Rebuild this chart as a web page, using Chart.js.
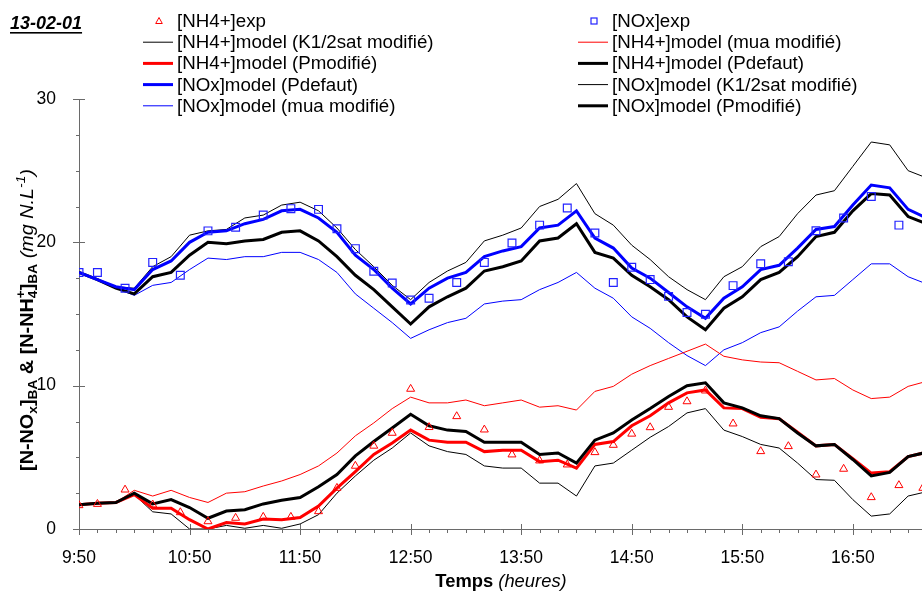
<!DOCTYPE html>
<html>
<head>
<meta charset="utf-8">
<script src="https://cdn.jsdelivr.net/npm/chart.js@4"></script>
<style>
  html, body { margin: 0; padding: 0; background: #fff; overflow: hidden; }
  #wrap { width: 980px; height: 591px; }
  #chart { display: block; }
</style>
</head>
<body>
<div id="wrap"><canvas id="chart" width="922" height="591"></canvas></div>
<script>
// minutes since 9:50
const modelTimes = [0,10,20,30,40,50,60,70,80,90,100,110,120,130,140,150,160,170,180,190,200,210,220,230,240,250,260,270,280,290,300,310,320,330,340,350,360,370,380,390,400,410,420,430,440,450,460];

const nh4K12sat = [1.7,1.8,1.85,2.4,1.2,1.05,0.0,0.0,0.25,0.05,0.25,0.05,0.35,1.0,2.5,3.7,4.8,5.65,6.7,5.8,5.4,5.2,4.4,4.25,4.25,3.2,3.2,2.3,4.4,4.6,5.5,6.4,7.15,8.1,8.4,6.9,6.45,5.9,5.65,4.6,3.45,3.4,2.05,0.9,1.05,2.3,2.6];
const nh4Mua = [1.7,1.8,1.85,2.7,2.3,2.7,2.2,1.85,2.5,2.6,3.0,3.35,3.8,4.4,5.3,6.5,7.4,8.4,9.2,8.8,8.8,9.0,8.6,8.8,9.0,8.5,8.6,8.3,9.6,9.95,10.8,11.4,11.9,12.4,12.9,12.05,11.8,11.65,11.6,11.0,10.4,10.5,9.7,9.1,9.2,9.95,10.3];
const nh4Pmod = [1.7,1.8,1.85,2.4,1.45,1.45,0.65,0.0,0.45,0.35,0.7,0.65,0.8,1.6,2.85,4.0,5.2,6.0,6.9,6.2,6.05,6.05,5.4,5.5,5.5,4.7,4.8,4.25,5.9,6.1,7.2,7.9,8.8,9.5,9.7,8.45,8.4,7.8,7.7,6.75,5.8,5.9,4.9,3.9,4.0,5.05,5.35];
const nh4Pdef = [1.7,1.8,1.85,2.5,1.75,2.05,1.5,0.75,1.25,1.35,1.75,2.0,2.2,2.95,3.8,5.1,6.1,7.05,8.0,7.2,6.9,6.8,6.05,6.05,6.05,5.2,5.3,4.6,6.2,6.7,7.6,8.4,9.25,10.0,10.2,8.8,8.45,7.9,7.7,6.7,5.8,5.9,4.85,3.7,3.95,5.05,5.35];

const noxPdef = [17.9,17.4,16.9,16.7,18.1,18.7,20.0,20.7,20.8,21.3,21.6,22.2,22.3,21.7,20.7,19.1,18.1,16.8,15.7,16.8,17.5,17.9,19.0,19.4,19.7,21.0,21.2,22.2,20.3,19.6,18.2,17.5,16.5,15.5,14.7,16.1,16.9,18.1,18.4,19.6,20.9,21.1,22.6,24.0,23.8,22.3,21.7];
const noxK12sat = [17.9,17.4,16.9,16.8,18.3,19.0,20.5,20.8,20.9,21.7,21.9,22.6,22.8,22.2,21.0,19.5,18.3,17.0,16.0,17.2,18.0,18.6,20.1,20.5,21.0,22.5,23.0,24.1,22.0,21.2,19.8,18.8,17.6,16.7,16.0,17.6,18.3,19.7,20.4,22.0,23.3,23.6,25.3,27.0,26.8,25.0,24.5];
const noxMua = [17.9,17.4,16.8,16.3,17.0,17.2,18.1,18.9,18.8,19.0,19.0,19.3,19.3,18.8,17.9,16.4,15.4,14.4,13.3,13.9,14.4,14.7,15.7,15.9,16.0,16.7,17.2,17.9,16.8,16.1,14.8,14.0,13.0,12.1,11.4,12.5,13.0,13.7,14.1,15.2,16.2,16.3,17.4,18.5,18.5,17.6,17.1];
const noxPmod = [17.9,17.4,16.8,16.4,17.6,17.9,19.1,20.0,19.9,20.1,20.2,20.7,20.8,20.1,19.0,17.7,16.7,15.5,14.3,15.5,16.2,16.8,18.0,18.3,18.7,20.1,20.3,21.3,19.3,18.9,17.7,16.9,16.0,14.8,13.9,15.4,16.2,17.4,17.9,19.0,20.4,20.7,22.2,23.4,23.3,21.8,21.3];

const nh4ExpTimes = [0,10,25,40,55,70,85,100,115,130,140,150,160,170,180,190,205,220,235,250,265,280,290,300,310,320,330,340,355,370,385,400,415,430,445,458];
const nh4ExpValues = [1.65,1.74,2.74,1.7,1.16,0.53,0.77,0.84,0.84,1.23,2.86,4.4,5.8,6.7,9.77,7.1,7.86,6.93,5.19,4.77,4.49,5.35,5.86,6.64,7.09,8.51,8.9,9.65,7.35,5.42,5.77,3.79,4.19,2.21,3.05,2.86];
const noxExpTimes = [0,10,25,40,55,70,85,100,115,130,140,150,160,170,180,190,205,220,235,250,265,280,290,300,310,320,330,340,355,370,385,400,415,430,445];
const noxExpValues = [17.9,17.9,16.8,18.6,17.7,20.8,21.05,21.9,22.35,22.3,20.95,19.56,17.98,17.16,15.98,16.1,17.2,18.6,19.95,21.2,22.4,20.65,17.2,18.26,17.4,16.23,15.1,14.98,16.98,18.51,18.65,20.81,21.7,23.2,21.2];

const startMinutes = 9 * 60 + 50;
const FONT = "'Liberation Sans', Arial, sans-serif";

const pts = (xs, ys) => xs.map((x, i) => ({ x: x, y: ys[i] }));

function lineSet(label, values, color, width) {
    return {
        label: label,
        data: pts(modelTimes, values),
        borderColor: color,
        backgroundColor: color,
        borderWidth: width,
        pointRadius: 0,
        tension: 0,
        order: width > 1 ? 2 : 3,
    };
}

// legend order: row by row, left column then right column
function buildDatasets() {
    const sets = [
        { label: '[NH4+]exp', data: pts(nh4ExpTimes, nh4ExpValues), showLine: false, pointStyle: 'triangle',
          pointRadius: 4.6, borderColor: '#ff0000', backgroundColor: 'rgba(0,0,0,0)', borderWidth: 1, order: 0 },
        { label: '[NOx]exp', data: pts(noxExpTimes, noxExpValues), showLine: false, pointStyle: 'rect',
          pointRadius: 5.5, borderColor: '#2222ff', backgroundColor: 'rgba(0,0,0,0)', borderWidth: 1.2, order: 0 },
        lineSet('[NH4+]model (K1/2sat modifié)', nh4K12sat, '#000000', 1),
        lineSet('[NH4+]model (mua modifié)', nh4Mua, '#ff0000', 1),
        lineSet('[NH4+]model (Pmodifié)', nh4Pmod, '#ff0000', 3),
        lineSet('[NH4+]model (Pdefaut)', nh4Pdef, '#000000', 3),
        lineSet('[NOx]model (Pdefaut)', noxPdef, '#0000ff', 3),
        lineSet('[NOx]model (K1/2sat modifié)', noxK12sat, '#000000', 1),
        lineSet('[NOx]model (mua modifié)', noxMua, '#0000ff', 1),
        lineSet('[NOx]model (Pmodifié)', noxPmod, '#000000', 3),
    ];
    sets[5].order = 1; // black thick NH4 drawn over red thick
    return sets;
}

// draws a run of text pieces (subscripts / superscripts) centred on 0
function drawRich(ctx, parts) {
    let total = 0;
    const placed = [];
    let prevStart = 0, prevW = 0;
    parts.forEach(p => {
        ctx.font = p.font;
        const w = ctx.measureText(p.text).width;
        if (p.stack) {
            placed.push({ p, x: prevStart });
            total = prevStart + Math.max(prevW, w);
        } else {
            placed.push({ p, x: total });
            prevStart = total; prevW = w;
            total += w;
        }
    });
    placed.forEach(({ p, x }) => {
        ctx.font = p.font;
        ctx.fillText(p.text, x - total / 2, p.dy || 0);
    });
}

const decorations = {
    id: 'decorations',
    beforeDatasetsDraw(chart) {
        const { ctx, chartArea, scales: { x, y } } = chart;
        ctx.save();
        ctx.strokeStyle = '#6a6a6a';
        ctx.lineWidth = 1;
        ctx.beginPath();
        ctx.moveTo(chartArea.left + 0.5, chartArea.top);
        ctx.lineTo(chartArea.left + 0.5, chartArea.bottom + 0.5);
        ctx.lineTo(chartArea.right, chartArea.bottom + 0.5);
        // y ticks
        for (let v = 0; v <= 30; v += 2.5) {
            const py = Math.round(y.getPixelForValue(v)) + 0.5;
            const major = v % 10 === 0;
            ctx.moveTo(chartArea.left - (major ? 6 : 3), py);
            ctx.lineTo(chartArea.left + (major ? 6 : 0), py);
        }
        // x ticks
        for (let t = 0; t <= x.max; t += 10) {
            const px = Math.round(x.getPixelForValue(t)) + 0.5;
            const major = t % 60 === 0;
            ctx.moveTo(px, chartArea.bottom - (major ? 5 : 0));
            ctx.lineTo(px, chartArea.bottom + (major ? 6 : 4));
        }
        ctx.stroke();
        ctx.restore();
    },
    afterDraw(chart) {
        const { ctx } = chart;
        ctx.save();
        ctx.fillStyle = '#000';
        ctx.textBaseline = 'alphabetic';

        // date title
        ctx.font = `italic bold 18px ${FONT}`;
        ctx.textAlign = 'left';
        ctx.fillText('13-02-01', 10, 29);
        const tw = ctx.measureText('13-02-01').width;
        ctx.fillRect(10, 32, tw, 1.6);

        // legend (text slightly stretched like the original)
        chart.data.datasets.forEach((ds, i) => {
            const col = i % 2, row = Math.floor(i / 2);
            const x0 = col === 0 ? 143 : 578;
            const cy = 21 + row * 21.2;
            ctx.save();
            ctx.strokeStyle = ds.borderColor;
            if (ds.showLine === false) {
                ctx.lineWidth = ds.borderWidth;
                const cx = x0 + 16;
                if (ds.pointStyle === 'triangle') {
                    ctx.beginPath();
                    ctx.moveTo(cx, cy - 3.5);
                    ctx.lineTo(cx + 3.3, cy + 2.5);
                    ctx.lineTo(cx - 3.3, cy + 2.5);
                    ctx.closePath();
                    ctx.stroke();
                } else {
                    ctx.strokeRect(cx - 3, cy - 3, 6, 6);
                }
            } else {
                ctx.lineWidth = ds.borderWidth;
                ctx.beginPath();
                ctx.moveTo(x0, cy);
                ctx.lineTo(x0 + 30, cy);
                ctx.stroke();
            }
            ctx.translate(x0 + 34, cy + 6);
            ctx.scale(1.07, 1);
            ctx.font = `17.5px ${FONT}`;
            ctx.fillText(ds.label, 0, 0);
            ctx.restore();
        });

        // x title
        ctx.save();
        ctx.translate(501, 587);
        ctx.scale(1.05, 1);
        drawRich(ctx, [
            { text: 'Temps ', font: `bold 17.5px ${FONT}` },
            { text: '(heures)', font: `italic 17.5px ${FONT}` },
        ]);
        ctx.restore();

        // y title
        ctx.save();
        ctx.translate(33, 320);
        ctx.rotate(-Math.PI / 2);
        ctx.scale(1.1, 1);
        const b = `bold 18px ${FONT}`, bs = `bold 12.5px ${FONT}`;
        const it = `italic 18px ${FONT}`, is = `italic 12.5px ${FONT}`;
        drawRich(ctx, [
            { text: '[N-NO', font: b },
            { text: 'x', font: bs, dy: 4 },
            { text: ']', font: b },
            { text: 'BA', font: bs, dy: 4 },
            { text: ' & [N-NH', font: b },
            { text: '4', font: bs, dy: 4 },
            { text: '+', font: bs, dy: -8, stack: true },
            { text: ']', font: b },
            { text: 'BA', font: bs, dy: 4 },
            { text: ' ', font: b },
            { text: '(mg N.L', font: it },
            { text: '-1', font: is, dy: -8 },
            { text: ')', font: it },
        ]);
        ctx.restore();
        ctx.restore();
    }
};

function makeChart(width) {
    const canvas = document.getElementById('chart');
    canvas.width = width;
    canvas.height = 591;
    canvas.style.width = width + 'px';
    canvas.style.height = '591px';
    return new Chart(canvas, {
        type: 'line',
        data: { datasets: buildDatasets() },
        options: {
            responsive: false,
            maintainAspectRatio: false,
            animation: false,
            devicePixelRatio: 1,
            layout: { padding: { top: 99, left: 0, right: 0, bottom: 0 } },
            plugins: { legend: { display: false }, tooltip: { enabled: false } },
            scales: {
                x: {
                    type: 'linear', min: 0, max: 457.7,
                    afterFit: s => { s.height = 62; },
                    grid: { display: false }, border: { display: false },
                    ticks: {
                        stepSize: 60, includeBounds: false, autoSkip: false, maxRotation: 0,
                        padding: 11, color: '#000', font: { family: FONT, size: 17.5 },
                        callback: v => {
                            const m = startMinutes + v;
                            return Math.floor(m / 60) + ':' + String(m % 60).padStart(2, '0');
                        }
                    }
                },
                y: {
                    min: 0, max: 30,
                    afterFit: s => { s.width = 79; },
                    grid: { display: false }, border: { display: false },
                    ticks: { stepSize: 10, padding: 15, color: '#000', font: { family: FONT, size: 17.5 } }
                }
            }
        },
        plugins: [decorations]
    });
}

// the layout keeps a few px free on the right; rebuild on a wider canvas so the plot reaches the window edge
let chart = makeChart(922);
const gap = Math.round(922 - chart.chartArea.right);
if (gap > 0) {
    chart.destroy();
    chart = makeChart(922 + gap);
}
</script>
</body>
</html>
